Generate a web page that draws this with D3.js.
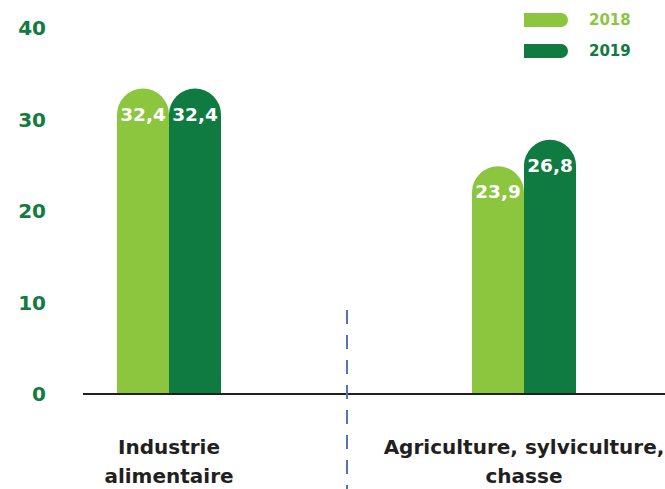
<!DOCTYPE html>
<html><head><meta charset="utf-8">
<script src="https://cdn.jsdelivr.net/npm/d3@7"></script>
<style>html,body{margin:0;padding:0;background:#fff}svg{display:block}</style>
</head><body>
<script>
const categories = [["Industrie","alimentaire"],["Agriculture, sylviculture,","chasse"]];
const categoryKeys = ["Industrie alimentaire","Agriculture, sylviculture, chasse"];
const seriesNames = ["2018","2019"];
const values2018 = [32.4, 23.9];
const values2019 = [32.4, 26.8];
const valueLabels2018 = ["32,4","23,9"];
const valueLabels2019 = ["32,4","26,8"];
const yTicks = [0,10,20,30,40];

const W = 665, H = 489;
const light = "#8cc63f", dark = "#0f7b40", tickGreen = "#137a40";
const svg = d3.select("body").append("svg").attr("width",W).attr("height",H);
const font = "'DejaVu Sans', sans-serif";

const y = d3.scaleLinear().domain([0,40]).range([394,28]);
const x = d3.scalePoint().domain(categoryKeys).range([169,524]);
const xs = d3.scaleBand().domain(seriesNames).range([-52,52]).padding(0);
const colors = d3.scaleOrdinal().domain(seriesNames).range([light,dark]);
const capLift = 9;

// y tick labels
svg.append("g").selectAll("text").data(yTicks).join("text")
  .attr("x",46).attr("y",d=>y(d)).attr("dy","0.36em")
  .attr("text-anchor","end").attr("font-family",font).attr("font-weight",700)
  .attr("font-size",20).attr("fill",tickGreen).text(d=>d);

// bars
const data = [];
categoryKeys.forEach((c,i)=>{
  data.push({c, s:"2018", v:values2018[i], l:valueLabels2018[i]});
  data.push({c, s:"2019", v:values2019[i], l:valueLabels2019[i]});
});
const bw = xs.bandwidth(), r = bw/2;
function barPath(d){
  const x0 = x(d.c)+xs(d.s), x1 = x0+bw, yb = y(0), yt = y(d.v)-capLift;
  return `M${x0},${yb}L${x0},${yt+r}A${r},${r} 0 0 1 ${x1},${yt+r}L${x1},${yb}Z`;
}
svg.append("g").selectAll("path").data(data).join("path")
  .attr("d",barPath).attr("fill",d=>colors(d.s));
svg.append("g").selectAll("text").data(data).join("text")
  .attr("x",d=>x(d.c)+xs(d.s)+bw/2).attr("y",d=>y(d.v)-capLift+32)
  .attr("text-anchor","middle").attr("font-family",font).attr("font-weight",700)
  .attr("font-size",18.5).attr("fill","#fff").text(d=>d.l);

// baseline
svg.append("line").attr("x1",83).attr("x2",W).attr("y1",y(0)).attr("y2",y(0))
  .attr("stroke","#231f20").attr("stroke-width",2);

// dashed separator
const mid = (x(categoryKeys[0])+x(categoryKeys[1]))/2;
svg.append("line").attr("x1",mid+0.5).attr("x2",mid+0.5).attr("y1",310).attr("y2",H)
  .attr("stroke","#5672b9").attr("stroke-width",2).attr("stroke-dasharray","14 11");

// category labels
categoryKeys.forEach((c,i)=>{
  const t = svg.append("text").attr("x",x(c)).attr("text-anchor","middle")
    .attr("font-family",font).attr("font-weight",700).attr("font-size",20).attr("fill","#231f20");
  categories[i].forEach((line,j)=>{
    t.append("tspan").attr("x",x(c)).attr("y",454+j*29).text(line);
  });
});

// legend
const lg = svg.append("g").selectAll("g").data(seriesNames).join("g")
  .attr("transform",(d,i)=>`translate(524,${13+i*31})`);
lg.append("path").attr("d","M0,0H37A7,7 0 0 1 37,14H0Z").attr("fill",d=>colors(d));
lg.append("text").attr("x",65).attr("y",7).attr("dy","0.36em")
  .attr("font-family",font).attr("font-weight",700).attr("font-size",15)
  .attr("fill",d=>colors(d)).text(d=>d);
</script>
</body></html>
